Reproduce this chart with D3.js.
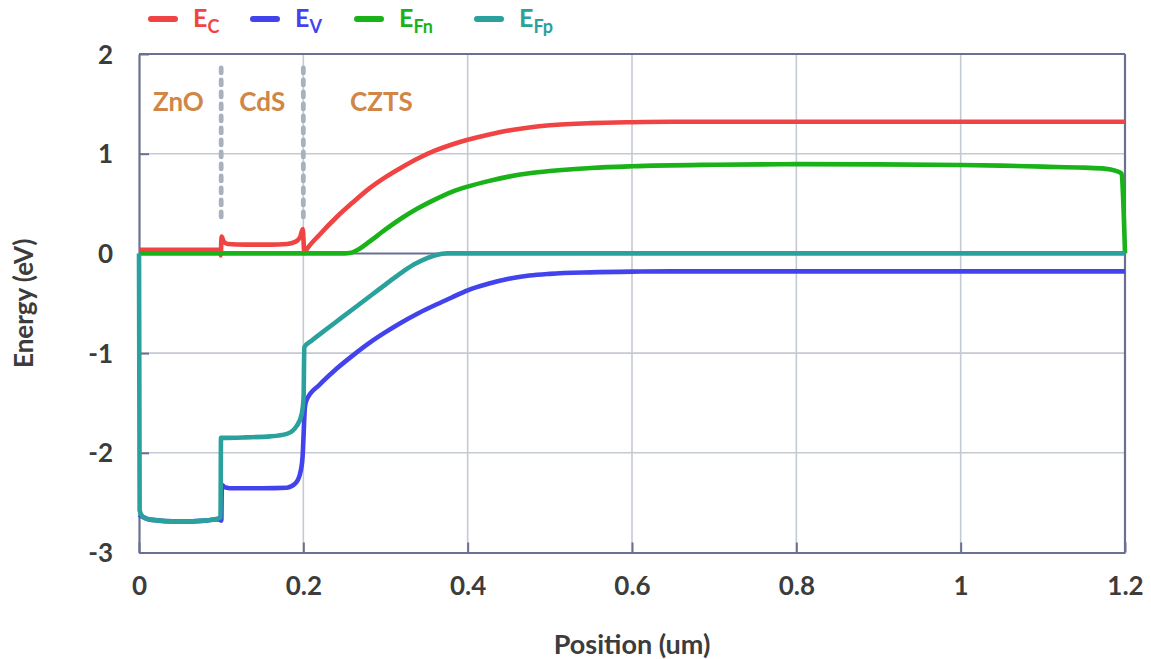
<!DOCTYPE html>
<html>
<head>
<meta charset="utf-8">
<script src="https://cdn.jsdelivr.net/npm/d3@7"></script>
<style>
  html, body { margin: 0; padding: 0; background: #ffffff; }
  svg { display: block; }
  text { font-family: Lato, "Open Sans", sans-serif; font-weight: bold; }
</style>
</head>
<body>
<svg id="chart" width="1151" height="659"></svg>
<script>
// ---------------- data ----------------
const xTicks = [0, 0.2, 0.4, 0.6, 0.8, 1, 1.2];
const xTickLabels = ["0", "0.2", "0.4", "0.6", "0.8", "1", "1.2"];
const yTicks = [2, 1, 0, -1, -2, -3];
const yTickLabels = ["2", "1", "0", "-1", "-2", "-3"];

const layerNames = ["ZnO", "CdS", "CZTS"];
const layerLabelX = [0.048, 0.15, 0.295];
const interfaces = [0.1, 0.2];

// Conduction band E_C  [position (um), energy (eV)]
const ecData = [
  [0, 0.035], [0.05, 0.035], [0.0985, 0.035], [0.0995, -0.02], [0.1005, 0.17],
  [0.103, 0.12], [0.108, 0.095], [0.13, 0.088], [0.16, 0.088], [0.18, 0.095],
  [0.19, 0.115], [0.196, 0.16], [0.1993, 0.245], [0.2012, 0.005], [0.204, 0.04],
  [0.22, 0.19], [0.24, 0.36], [0.26, 0.51], [0.28, 0.65], [0.3, 0.765],
  [0.32, 0.865], [0.34, 0.955], [0.36, 1.03], [0.38, 1.09], [0.4, 1.14],
  [0.425, 1.19], [0.45, 1.232], [0.475, 1.263], [0.5, 1.285], [0.55, 1.307],
  [0.6, 1.316], [0.65, 1.32], [0.8, 1.32], [1.0, 1.32], [1.2, 1.32]
];
// Valence band E_V
const evData = [
  [0, -2.62], [0.004, -2.64], [0.013, -2.67], [0.05, -2.69], [0.08, -2.68],
  [0.096, -2.665], [0.1002, -2.68], [0.1008, -2.32], [0.104, -2.345], [0.11, -2.355],
  [0.15, -2.355], [0.18, -2.35], [0.19, -2.31], [0.196, -2.21], [0.199, -2.05],
  [0.202, -1.54], [0.204, -1.47], [0.22, -1.315], [0.24, -1.16], [0.26, -1.025],
  [0.28, -0.9], [0.3, -0.79], [0.32, -0.69], [0.34, -0.6], [0.36, -0.52],
  [0.38, -0.445], [0.4, -0.37], [0.425, -0.305], [0.45, -0.255], [0.475, -0.222],
  [0.5, -0.205], [0.55, -0.19], [0.6, -0.183], [0.65, -0.18], [0.8, -0.18],
  [1.0, -0.18], [1.2, -0.18]
];
// Electron quasi-Fermi level E_Fn
const efnData = [
  [0, 0], [0.1, 0], [0.2, 0], [0.25, 0], [0.258, 0.006], [0.269, 0.05],
  [0.28, 0.115], [0.3, 0.24], [0.32, 0.355], [0.34, 0.455], [0.36, 0.54],
  [0.38, 0.615], [0.4, 0.67], [0.425, 0.725], [0.45, 0.77], [0.475, 0.803],
  [0.5, 0.826], [0.55, 0.857], [0.6, 0.874], [0.7, 0.889], [0.8, 0.895],
  [0.9, 0.893], [1.0, 0.886], [1.05, 0.88], [1.1, 0.87], [1.15, 0.86],
  [1.175, 0.85], [1.188, 0.83], [1.196, 0.80], [1.1975, 0.6], [1.2, 0]
];
// Hole quasi-Fermi level E_Fp
const efpData = [
  [0, 0], [0.0008, -2.58], [0.004, -2.635], [0.013, -2.67], [0.05, -2.69],
  [0.08, -2.68], [0.096, -2.66], [0.0992, -2.645], [0.0998, -1.85], [0.103, -1.85],
  [0.13, -1.845], [0.16, -1.835], [0.18, -1.81], [0.192, -1.73], [0.198, -1.61],
  [0.2003, -1.45], [0.2012, -0.94], [0.21, -0.875], [0.225, -0.78], [0.245, -0.655],
  [0.265, -0.53], [0.285, -0.405], [0.305, -0.28], [0.32, -0.19], [0.335, -0.11],
  [0.35, -0.05], [0.362, -0.015], [0.375, 0], [0.4, 0], [0.8, 0], [1.2, 0]
];

const seriesNames = ["C", "V", "Fn", "Fp"];
const seriesColors = ["#f04444", "#4343ee", "#19b219", "#2aa19d"];
const seriesData = [ecData, evData, efnData, efpData];

// ---------------- layout ----------------
const svg = d3.select("#chart");
const M = { left: 139, right: 1125, top: 54, bottom: 552.5 };
const x = d3.scaleLinear().domain([0, 1.2]).range([M.left, M.right]);
const y = d3.scaleLinear().domain([-3, 2]).range([M.bottom, M.top]);

const axisColor = "#6a7190";
const gridColor = "#c4cad2";
const textColor = "#3c3c3c";

// gridlines
const gx = svg.append("g");
gx.selectAll("line.vg").data(xTicks.filter(d => d > 0 && d < 1.2)).join("line")
  .attr("x1", d => x(d)).attr("x2", d => x(d))
  .attr("y1", M.top).attr("y2", M.bottom)
  .attr("stroke", gridColor).attr("stroke-width", 1.6);
gx.selectAll("line.hg").data(yTicks.filter(d => d !== 2 && d !== -3 && d !== 0)).join("line")
  .attr("x1", M.left).attr("x2", M.right)
  .attr("y1", d => y(d)).attr("y2", d => y(d))
  .attr("stroke", gridColor).attr("stroke-width", 1.6);

// zero line
svg.append("line")
  .attr("x1", M.left).attr("x2", M.right)
  .attr("y1", y(0)).attr("y2", y(0))
  .attr("stroke", axisColor).attr("stroke-width", 2);

// axes using d3 axis generators (inward ticks)
const xAxis = svg.append("g")
  .attr("transform", `translate(0,${M.bottom})`)
  .call(d3.axisBottom(x).tickValues(xTicks).tickSizeInner(-10).tickSizeOuter(0)
        .tickFormat((d, i) => xTickLabels[i]).tickPadding(24));
const yAxis = svg.append("g")
  .attr("transform", `translate(${M.left},0)`)
  .call(d3.axisLeft(y).tickValues(yTicks).tickSizeInner(-10).tickSizeOuter(0)
        .tickFormat((d, i) => yTickLabels[i]).tickPadding(26));
[xAxis, yAxis].forEach(g => {
  g.select(".domain").attr("stroke", axisColor).attr("stroke-width", 2.2);
  g.selectAll(".tick line").attr("stroke", axisColor).attr("stroke-width", 2);
  g.selectAll(".tick text").attr("fill", textColor).attr("font-size", 26)
    .attr("font-family", "Lato, sans-serif").attr("font-weight", "bold");
});
xAxis.selectAll(".tick text").attr("dy", "0.71em");
yAxis.selectAll(".tick text").attr("dy", "0.35em");

// top and right frame
svg.append("line").attr("x1", M.left).attr("x2", M.right).attr("y1", M.top).attr("y2", M.top)
  .attr("stroke", axisColor).attr("stroke-width", 2.2);
svg.append("line").attr("x1", M.right).attr("x2", M.right).attr("y1", M.top).attr("y2", M.bottom)
  .attr("stroke", axisColor).attr("stroke-width", 2.2);

// interface dashed lines
svg.append("g").selectAll("line").data(interfaces).join("line")
  .attr("x1", d => x(d)).attr("x2", d => x(d))
  .attr("y1", y(1.86)).attr("y2", y(0.35))
  .attr("stroke", "#a9b2bc").attr("stroke-width", 4.8)
  .attr("stroke-linecap", "round").attr("stroke-dasharray", "5,7");

// layer labels
svg.append("g").selectAll("text").data(layerNames).join("text")
  .attr("x", (d, i) => x(layerLabelX[i]))
  .attr("y", y(1.53))
  .attr("text-anchor", "middle").attr("dominant-baseline", "central")
  .attr("fill", "#cf8646").attr("font-size", 26)
  .text(d => d);

// curves
const line = d3.line().x(d => x(d[0])).y(d => y(d[1])).curve(d3.curveMonotoneX);
svg.append("g").selectAll("path").data(seriesData).join("path")
  .attr("d", d => line(d))
  .attr("fill", "none")
  .attr("stroke", (d, i) => seriesColors[i])
  .attr("stroke-width", 4.6)
  .attr("stroke-linejoin", "round")
  .attr("stroke-linecap", "butt");

// legend
const legendLineX = [151, 253, 357, 477];
const leg = svg.append("g");
seriesNames.forEach((nm, i) => {
  const g = leg.append("g").attr("transform", `translate(${legendLineX[i]},19)`);
  g.append("line").attr("x1", 0).attr("x2", 24).attr("y1", 0).attr("y2", 0)
    .attr("stroke", seriesColors[i]).attr("stroke-width", 6).attr("stroke-linecap", "round");
  const t = g.append("text").attr("x", 42).attr("y", 8)
    .attr("fill", seriesColors[i]).attr("font-size", 25);
  t.append("tspan").text("E");
  t.append("tspan").attr("dy", 6).attr("font-size", 18).text(nm);
});

// axis titles
svg.append("text")
  .attr("x", (M.left + M.right) / 2).attr("y", 643)
  .attr("text-anchor", "middle").attr("dominant-baseline", "central")
  .attr("fill", textColor).attr("font-size", 27)
  .text("Position (um)");
svg.append("text")
  .attr("transform", `translate(23,${(M.top + M.bottom) / 2}) rotate(-90)`)
  .attr("text-anchor", "middle").attr("dominant-baseline", "central")
  .attr("fill", textColor).attr("font-size", 26)
  .text("Energy (eV)");
</script>
</body>
</html>
